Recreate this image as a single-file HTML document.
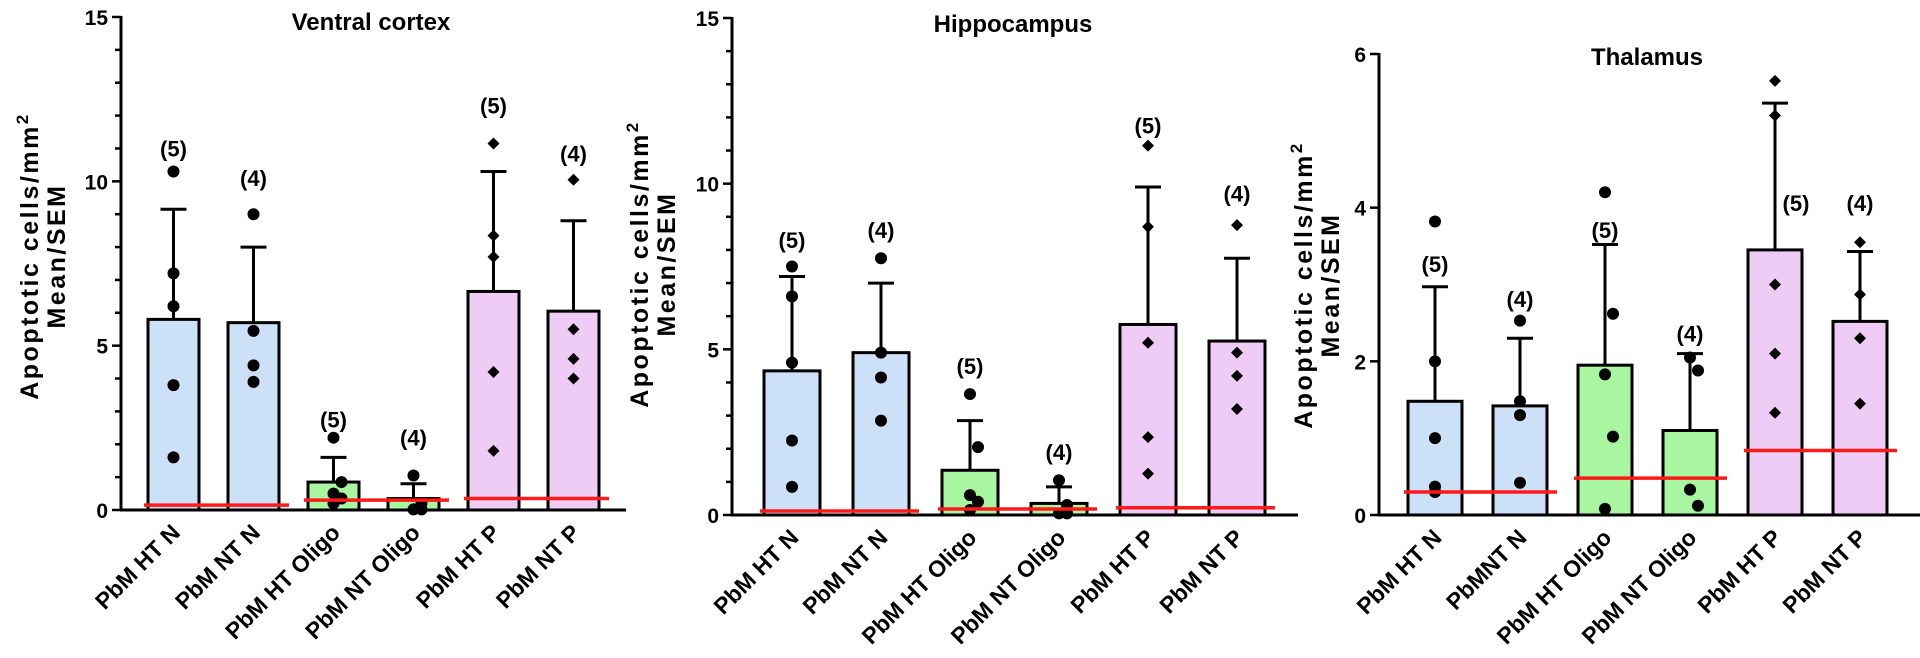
<!DOCTYPE html>
<html><head><meta charset="utf-8">
<style>
html,body{margin:0;padding:0;background:#fff;}
svg{display:block;font-family:"Liberation Sans",Arial,sans-serif;}
</style></head>
<body>
<svg id="chart" width="1920" height="658" viewBox="0 0 1920 658" xmlns="http://www.w3.org/2000/svg"></svg>
<script>
// ---- data ----
const categoriesA = ["PbM HT N","PbM NT N","PbM HT Oligo","PbM NT Oligo","PbM HT P","PbM NT P"];
const categoriesThal = ["PbM HT N","PbMNT N","PbM HT Oligo","PbM NT Oligo","PbM HT P","PbM NT P"];
const groupN = ["(5)","(4)","(5)","(4)","(5)","(4)"];

const vcMeans = [5.8, 5.7, 0.85, 0.35, 6.65, 6.05];
const vcErrTop = [9.15, 8.0, 1.6, 0.8, 10.3, 8.8];
const vcPoints = [[10.3,7.2,6.2,3.8,1.6],[9.0,5.45,4.4,3.9],[2.2,0.85,0.5,0.35,0.2],[1.05,0.2,0.02,0.02],[11.15,8.35,7.7,4.2,1.8],[10.05,5.5,4.6,4.0]];
const vcLabelAt = [11.0, 10.1, 2.75, 2.2, 12.3, 10.85];
const vcBaseline = [0.15, 0.3, 0.35];

const hpMeans = [4.35, 4.9, 1.35, 0.35, 5.75, 5.25];
const hpErrTop = [7.2, 7.0, 2.85, 0.85, 9.9, 7.75];
const hpPoints = [[7.5,6.6,4.6,2.25,0.85],[7.75,4.9,4.15,2.85],[3.65,2.05,0.6,0.4,0.15],[1.05,0.3,0.05,0.05],[11.15,8.7,5.2,2.35,1.25],[8.75,4.9,4.2,3.2]];
const hpLabelAt = [8.3, 8.6, 4.5, 1.9, 11.75, 9.7];
const hpBaseline = [0.12, 0.18, 0.22];

const thMeans = [1.48, 1.42, 1.95, 1.1, 3.45, 2.52];
const thErrTop = [2.97, 2.3, 3.52, 2.1, 5.36, 3.43];
const thPoints = [[3.82,2.0,1.0,0.37,0.3],[2.53,1.48,1.3,0.42],[4.2,2.62,1.83,1.02,0.08],[2.05,1.88,0.33,0.12],[5.65,5.2,3.0,2.1,1.33],[3.55,2.87,2.3,1.45]];
const thLabelAt = [3.27, 2.81, 3.71, 2.36, 4.06, 4.06];
const thBaseline = [0.3, 0.48, 0.84];

const NS = "http://www.w3.org/2000/svg";
const svg = document.getElementById('chart');
const fills = ["#cce0f8","#cce0f8","#a8f7a0","#a8f7a0","#efccf6","#efccf6"];

function mk(tag, attrs, parent){
  const e = document.createElementNS(NS, tag);
  for (const k in attrs) e.setAttribute(k, attrs[k]);
  (parent||svg).appendChild(e);
  return e;
}

function panel(cfg){
  const g = mk('g', {});
  
  
  const y = v => cfg.y0 - (v/cfg.yMax)*(cfg.y0-cfg.yTop);
  const xc = i => cfg.x1 + cfg.w/2 + i*cfg.step;

  cfg.means.forEach((m,i)=>{
    const r = mk('rect', {x:xc(i)-cfg.w/2, y:y(m), width:cfg.w, height:cfg.y0-y(m), fill:fills[i], stroke:'#000','stroke-width':3}, g);
    
    
  });
  cfg.err.forEach((t,i)=>{
    const e1 = mk('line', {x1:xc(i), x2:xc(i), y1:y(cfg.means[i]), y2:y(t), stroke:'#000','stroke-width':3}, g);
    
    
    const e2 = mk('line', {x1:xc(i)-13, x2:xc(i)+13, y1:y(t), y2:y(t), stroke:'#000','stroke-width':3}, g);
    
    
  });
  cfg.points.forEach((arr,i)=>{
    arr.forEach((v,j)=>{
      const dx = (j%2===0?0:1)* (arr.length>4 && j===arr.length-1 ? -6: 4) * (i===2||i===3?2:0);
      let p;
      if (i>=4){
        const cx=xc(i), cy=y(v), s=6;
        p = mk('polygon', {points:`${cx},${cy-s} ${cx+s},${cy} ${cx},${cy+s} ${cx-s},${cy}`, fill:'#000'}, g);
      } else {
        p = mk('circle', {cx:xc(i)+dx, cy:y(v), r:6, fill:'#000'}, g);
      }
      
      
    });
  });
  cfg.base.forEach((b,k)=>{
    const xa = xc(2*k)-cfg.w/2-4, xb = xc(2*k+1)+cfg.w/2+10;
    const l = mk('line', {x1:xa, x2:xb, y1:y(b), y2:y(b), stroke:'#ff1a1a','stroke-width':3.5}, g);
    
    
  });
  cfg.labelAt.forEach((v,i)=>{
    const t = mk('text', {x:xc(i)+(cfg.labelDx?cfg.labelDx[i]:0), y:y(v)+8, 'text-anchor':'middle','font-size':22,'font-weight':'bold'}, g);
    t.textContent = groupN[i];
    
    
  });
  const ya = mk('line', {x1:cfg.ax, x2:cfg.ax, y1:cfg.yTop-1, y2:cfg.y0, stroke:'#000','stroke-width':3}, g);
  
  
  const xa = mk('line', {x1:cfg.ax-1, x2:cfg.xEnd, y1:cfg.y0, y2:cfg.y0, stroke:'#000','stroke-width':3}, g);
  
  
  for (let v=0; v<=cfg.yMax+1e-9; v+=cfg.minor){
    const major = Math.abs(v/cfg.major - Math.round(v/cfg.major))<1e-6;
    const tk = mk('line', {x1:cfg.ax-(major?9:6), x2:cfg.ax, y1:y(v), y2:y(v), stroke:'#000','stroke-width':2.5}, g);
    
    
    if (major){
      const tl = mk('text', {x:cfg.ax-13, y:y(v)+8, 'text-anchor':'end','font-size':21,'font-weight':'bold'}, g);
      tl.textContent = Math.round(v);
      
      
    }
  }
  cfg.cats.forEach((c,i)=>{
    const tx = xc(i)+8, ty = cfg.y0+24;
    const t = mk('text', {x:tx, y:ty, 'text-anchor':'end','font-size':23,'font-weight':'bold', transform:`rotate(-45 ${tx} ${ty})`}, g);
    t.textContent = c;
    
    
  });
  const ti = mk('text', {x:cfg.titleX, y:cfg.titleY, 'text-anchor':'middle','font-size':24,'font-weight':'bold'}, g);
  ti.textContent = cfg.title;
  
  
  const yt = mk('text', {transform:`translate(${cfg.ytX},${cfg.ytY}) rotate(-90)`, 'text-anchor':'middle','font-size':25,'font-weight':'bold','letter-spacing':'2.5'}, g);
  
  
  const s1 = mk('tspan', {x:0, y:0}, yt); s1.textContent = 'Apoptotic cells/mm';
  const s2 = mk('tspan', {dy:-10, 'font-size':17}, yt); s2.textContent = '2';
  const s3 = mk('tspan', {x:0, y:27}, yt); s3.textContent = 'Mean/SEM';
}

panel({name:'panel-ventral-cortex', title:'Ventral cortex', titleX:371, titleY:30,
  ax:121, xEnd:626, x1:148, w:51, step:80, y0:510, yTop:17, yMax:15, major:5, minor:1,
  cats:categoriesA, means:vcMeans, err:vcErrTop, points:vcPoints, labelAt:vcLabelAt, base:vcBaseline,
  ytX:38, ytY:256});
panel({name:'panel-hippocampus', title:'Hippocampus', titleX:1013, titleY:32,
  ax:732, xEnd:1298, x1:764, w:56, step:89, y0:515, yTop:18, yMax:15, major:5, minor:1,
  cats:categoriesA, means:hpMeans, err:hpErrTop, points:hpPoints, labelAt:hpLabelAt, base:hpBaseline,
  ytX:648, ytY:264});
panel({name:'panel-thalamus', title:'Thalamus', titleX:1647, titleY:65,
  ax:1379, xEnd:1920, x1:1408, w:54, step:85, y0:515, yTop:54, yMax:6, major:2, minor:2,
  cats:categoriesThal, means:thMeans, err:thErrTop, points:thPoints, labelAt:thLabelAt, base:thBaseline,
  labelDx:[0,0,0,0,21,0], ytX:1312, ytY:285});
</script>
</body></html>
